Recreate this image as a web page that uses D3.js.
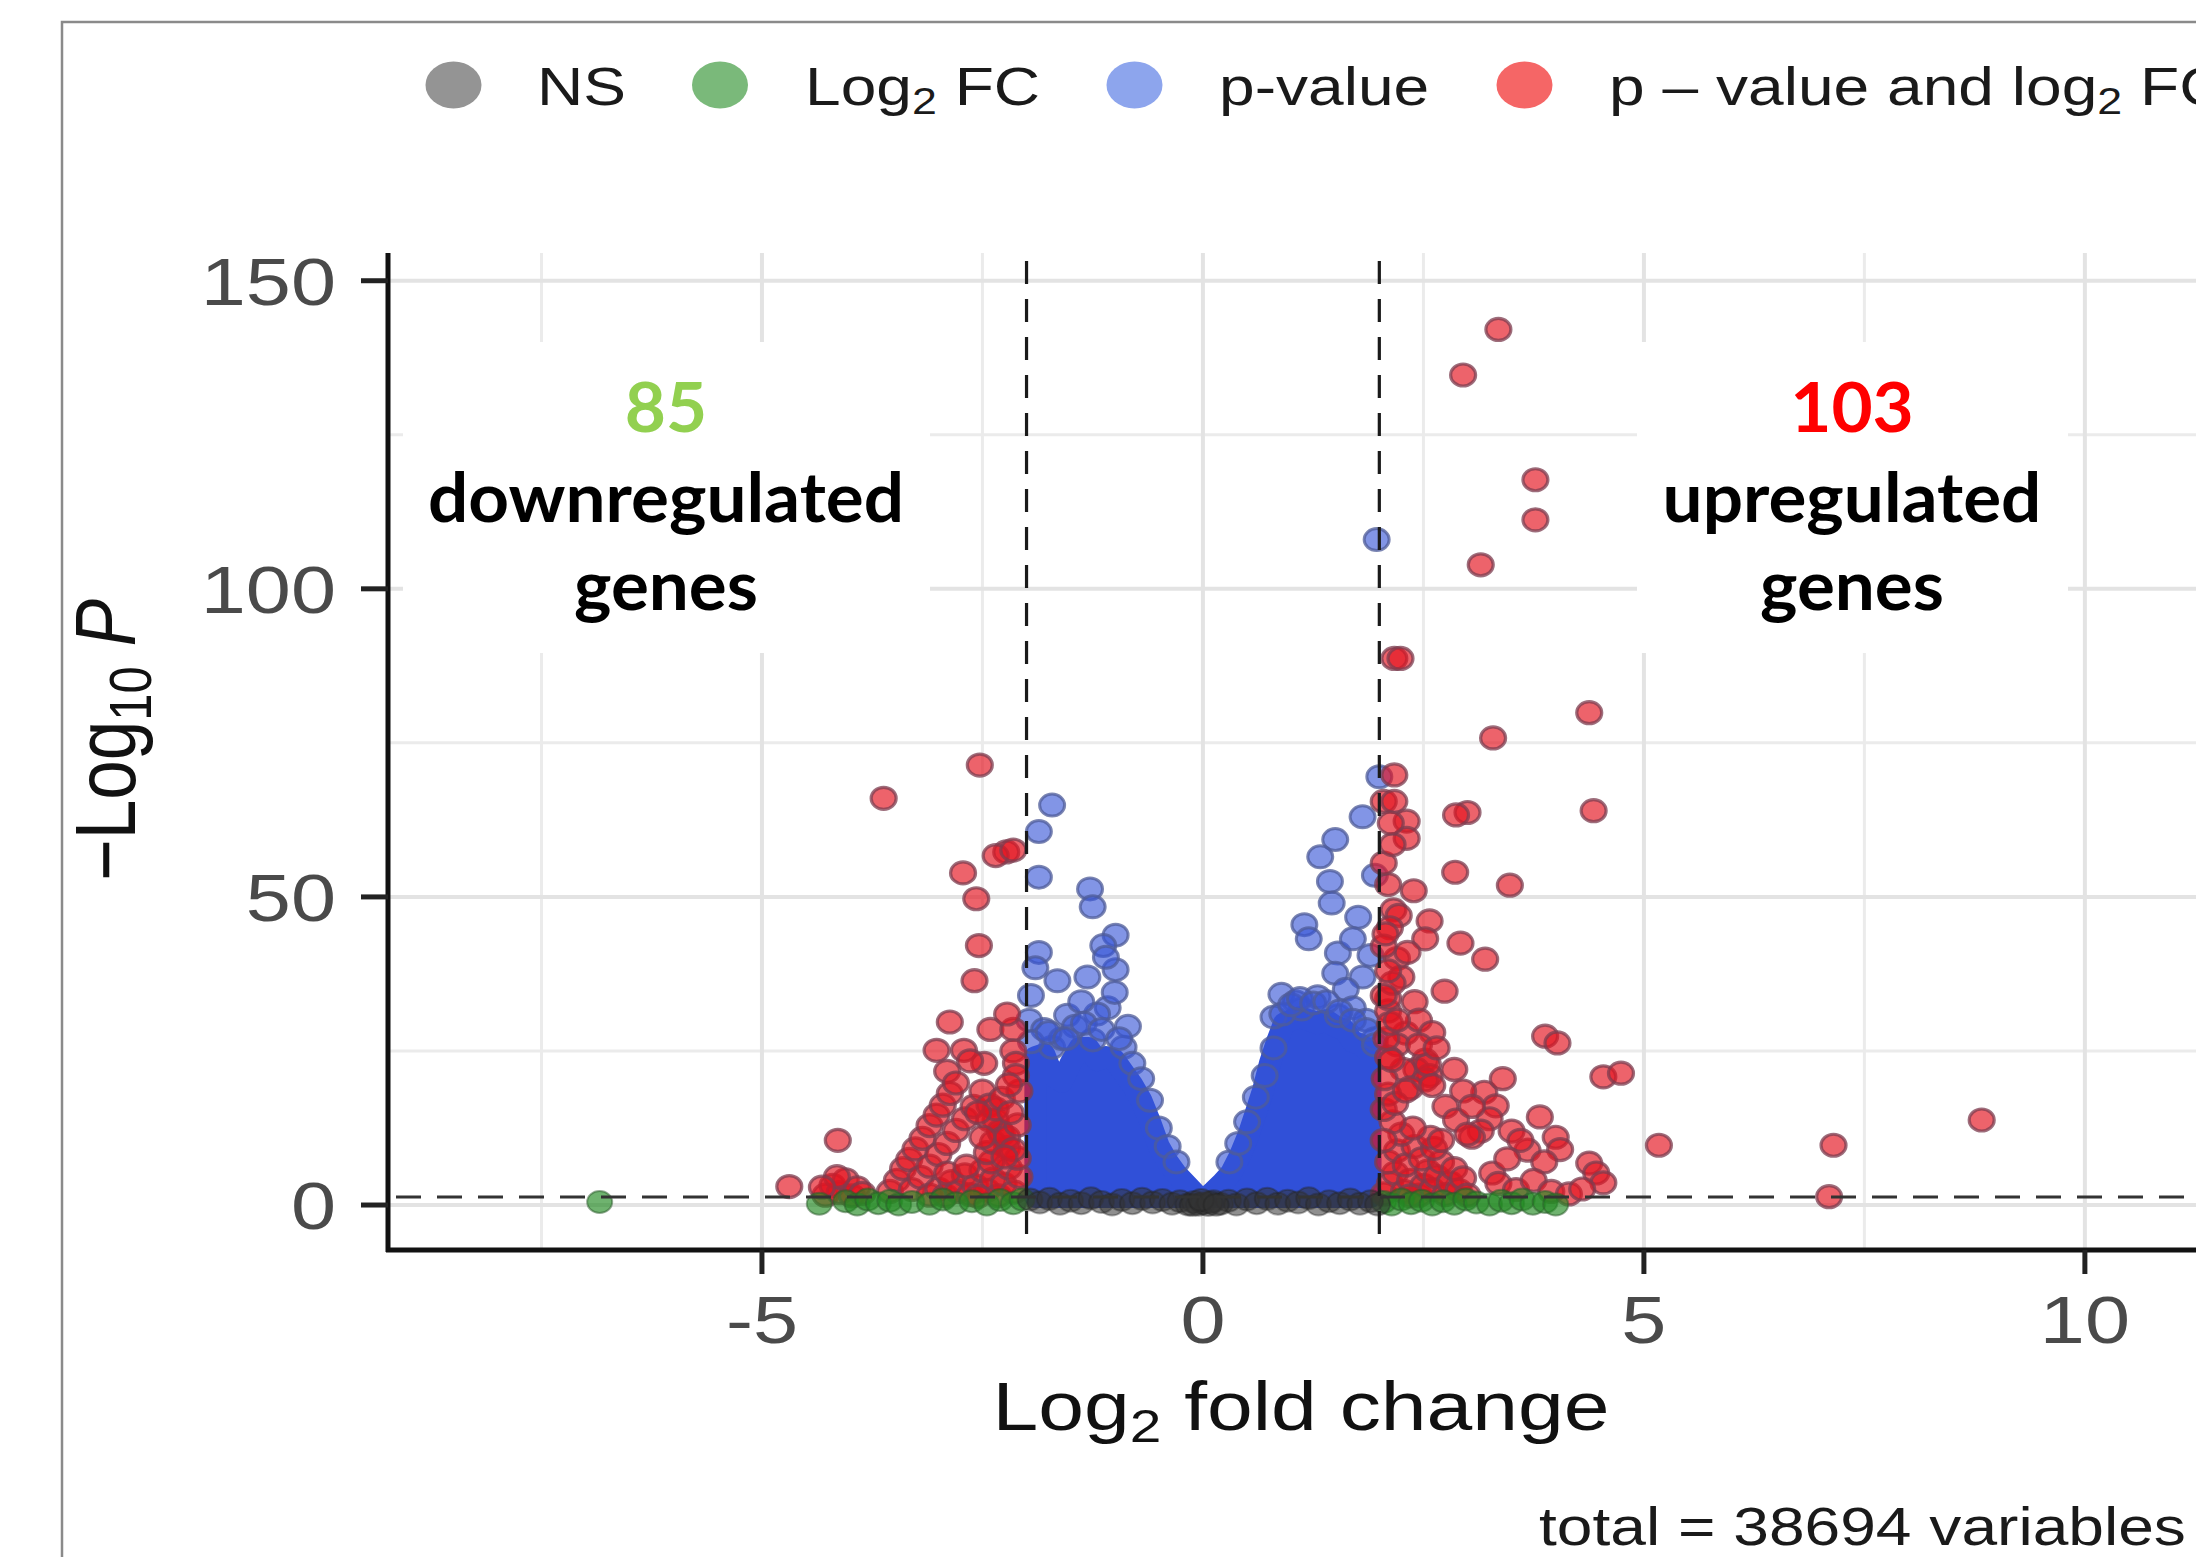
<!DOCTYPE html>
<html><head><meta charset="utf-8">
<script src="https://cdn.jsdelivr.net/npm/d3@7"></script>
<style>body{margin:0;background:#fff;overflow:hidden}</style>
</head><body>
<svg id="chart" width="2196" height="1557"></svg>
<script>
// ---------------- DATA ----------------
const xTicks = [-5, 0, 5, 10];
const xTickLabels = ["-5", "0", "5", "10"];
const yTicks = [0, 50, 100, 150];
const yTickLabels = ["0", "50", "100", "150"];
const xMinorTicks = [-7.5, -2.5, 2.5, 7.5];
const yMinorTicks = [25, 75, 125];
const fcCutoffs = [-2, 2];
const pCutoff = 1.3;
const legendKeys = ["NS", "Log2 FC", "p-value", "p - value and log2 FC"];
const downCount = 85, upCount = 103;
const totalVariables = 38694;

// significant by p-value and log2FC (red)
const redPoints = [
  // left, sparse
  [-2.53,71.4],[-3.62,66.0],[-2.23,57.3],[-2.35,56.7],[-2.15,57.6],[-2.72,53.9],[-2.57,49.7],
  [-2.54,42.1],[-2.59,36.4],[-2.87,29.7],[-2.41,28.5],[-2.15,28.5],[-3.02,25.1],[-2.71,25.1],
  [-2.9,21.7],[-2.15,25.0],[-2.12,23.0],[-2.48,23.0],[-2.22,31.0],
  // left ramps
  [-3.55,2.2],[-3.47,4.0],[-3.40,5.9],[-3.33,7.4],[-3.26,9.1],[-3.18,10.8],[-3.10,12.9],[-3.02,14.6],
  [-2.95,16.2],[-2.87,18.1],[-2.80,19.8],[-2.64,23.4],
  [-3.3,2.5],[-3.2,4.5],[-3.1,6.3],[-3.0,8.2],[-2.9,10.0],[-2.8,12.1],[-2.7,14.0],[-2.6,16.0],
  [-2.5,18.5],[-2.42,16.2],[-2.35,13.8],[-2.28,11.5],[-2.22,9.3],
  [-4.14,10.5],[-4.69,3.0],
  // left dense clusters
  [-4.28,1.6],[-4.2,3.2],[-4.12,2.0],[-4.05,4.1],[-3.98,1.5],[-3.92,2.8],[-4.15,4.6],[-4.32,2.9],[-3.86,1.9],
  [-3.1,1.6],[-3.0,2.6],[-2.92,1.5],[-2.85,3.8],[-2.78,2.2],[-2.7,4.9],[-2.64,1.7],[-2.58,3.1],[-2.5,5.6],
  [-2.45,2.4],[-2.38,4.2],[-2.32,1.5],[-2.26,3.4],[-2.2,6.0],[-2.14,2.1],[-2.08,4.6],[-2.55,1.4],[-2.9,5.2],
  [-2.68,6.3],[-2.4,7.0],[-2.1,7.6],
  [-2.45,8.5],[-2.38,10.2],[-2.3,12.0],[-2.42,13.8],[-2.35,15.6],[-2.28,17.3],[-2.22,11.0],[-2.15,9.0],
  [-2.1,13.0],[-2.18,15.0],[-2.25,7.8],[-2.5,11.0],[-2.55,15.0],[-2.08,18.5],[-2.12,21.0],[-2.2,19.5],
  // right, sparse
  [3.35,142.1],[2.95,134.7],[3.77,117.7],[3.77,111.2],[3.15,103.9],[2.17,88.7],[2.24,88.7],[4.38,79.9],
  [3.29,75.8],[4.43,64.0],[3.0,63.7],[2.87,63.3],[2.86,54.0],[2.17,69.8],[2.05,65.5],[2.17,65.5],
  [2.31,62.3],[2.31,59.5],[2.39,51.0],[2.16,47.9],[2.22,47.0],[2.57,46.1],[2.52,43.2],[2.92,42.5],
  [3.2,39.9],[2.2,40.0],[2.32,41.0],[3.48,51.9],[2.74,34.7],[2.1,31.5],[2.1,33.5],[2.3,27.9],
  [2.52,23.5],[2.42,22.0],[2.57,21.0],[3.88,27.4],[4.02,26.3],[4.54,20.8],[4.74,21.4],[3.19,18.3],
  [3.32,16.1],[3.25,14.0],[3.15,12.0],[3.05,11.0],[3.82,14.3],[4.0,11.0],[4.05,9.0],[4.38,6.8],
  [4.46,5.2],[4.54,3.6],[3.68,8.9],[3.87,7.0],[3.28,5.2],[5.17,9.7],[7.15,9.7],[7.1,1.35],[8.83,13.8],
  [2.27,22.0],[2.52,20.3],[2.12,45.0],[2.25,37.0],[2.15,36.0],[2.4,33.0],[2.45,30.0],[2.2,26.0],
  [2.6,28.0],[2.35,19.0],[2.1,24.0],[2.05,42.0],[2.1,52.0],[2.05,55.5],[2.15,58.5],[2.13,62.0],
  [2.55,22.8],[2.6,19.4],[2.75,16.0],[2.87,13.8],[3.0,11.5],[2.45,26.0],[2.65,25.5],[2.85,22.0],
  [2.95,18.5],[3.05,16.0],[3.4,20.5],[3.5,12.0],[3.6,10.5],[3.45,7.5],[3.35,3.5],[3.55,2.5],
  [3.75,4.0],[3.95,2.2],[4.15,1.8],[4.3,2.6],
  // right dense clusters
  [2.05,1.8],[2.12,3.5],[2.18,5.2],[2.1,7.0],[2.2,8.8],[2.28,2.2],[2.35,4.0],[2.3,6.5],[2.4,9.5],
  [2.45,1.6],[2.5,3.2],[2.55,5.5],[2.48,7.5],[2.6,2.5],[2.65,4.6],[2.7,7.0],[2.62,9.2],[2.75,1.7],
  [2.8,3.6],[2.85,5.9],[2.9,2.4],[2.95,4.4],[2.58,11.0],[2.25,11.5],[2.38,12.5],[2.15,13.5],
  [2.05,10.5],[2.7,10.5],[3.0,1.6],[2.35,1.5],
  [2.05,15.5],[2.1,18.0],[2.06,20.5],[2.14,23.5],[2.08,27.0],[2.12,29.5],[2.05,34.0],[2.1,38.0],
  [2.07,44.0],[2.2,30.0],[2.18,16.5],[2.3,18.5]
];

// significant by p-value only (blue), scattered above the dense mass
const bluePoints = [
  [-1.71,64.9],[-1.86,60.6],[-1.86,53.2],[-1.28,51.3],[-1.25,48.4],[-0.99,43.8],[-1.13,42.1],
  [-1.86,41.0],[-1.9,38.5],[-1.65,36.4],[-1.31,37.0],[-0.99,38.2],[-1.54,30.8],[-1.08,32.0],
  [-1.25,26.8],[-1.71,25.6],[-0.9,25.6],[-1.95,34.0],[-1.97,30.0],[-1.8,28.5],[-1.45,29.0],
  [-1.2,31.0],[-1.0,34.5],[-0.85,29.0],[-1.1,40.2],[-1.38,33.0],[-1.6,27.0],
  [-1.95,26.5],[-1.75,28.0],[-1.55,27.0],[-1.35,29.5],[-1.15,28.5],[-0.95,27.0],[-0.8,23.0],
  [-0.7,20.5],[-0.6,17.0],[-0.5,12.5],[-0.4,9.5],[-0.3,7.0],
  [1.97,108.0],[2.0,69.5],[1.81,63.0],[1.5,59.3],[1.33,56.5],[1.44,52.5],[1.46,49.0],[1.76,46.7],
  [1.15,45.5],[1.2,43.2],[1.95,53.5],[1.53,40.9],[1.7,43.2],[1.5,37.6],[0.89,34.2],[1.12,31.8],
  [1.53,30.7],[1.81,37.0],[1.9,40.5],[1.62,35.0],[1.3,33.8],[1.05,33.0],[1.7,32.0],[1.85,30.0],
  [1.95,27.0],[0.8,30.5],
  [0.3,7.0],[0.4,10.0],[0.5,13.5],[0.6,17.5],[0.7,21.0],[0.8,25.5],[0.9,31.0],[1.0,32.5],
  [1.1,33.5],[1.25,32.8],[1.4,33.0],[1.55,31.5],[1.7,30.0],[1.85,28.5],[1.95,26.0]
];

// upper envelope (point centres) of the dense blue mass
const blueMassLeft = [
  [-1.9,1.3],[-1.9,24],[-1.8,24.5],[-1.7,21],[-1.6,20],[-1.5,23],[-1.4,25.5],[-1.3,25.5],
  [-1.2,23.5],[-1.1,24],[-1.0,23.5],[-0.9,21.5],[-0.8,19.5],[-0.7,17],[-0.6,13.5],[-0.5,9.5],
  [-0.4,7],[-0.3,5],[-0.2,3.5],[-0.1,2],[-0.05,1.3]
];
const blueMassRight = [
  [0.05,1.3],[0.12,2.2],[0.22,3.6],[0.32,5.2],[0.42,8],[0.52,11.5],[0.6,15],[0.68,18.5],
  [0.76,23],[0.84,26.5],[0.92,29.5],[1.0,30],[1.1,30.5],[1.2,30],[1.3,29.5],[1.4,30],
  [1.5,29],[1.6,28.5],[1.7,26.5],[1.8,26],[1.9,24.5],[1.9,1.3]
];

// log2FC only (green)
const greenPoints = [
  [-6.84,0.5],[-4.35,0.2],[-4.05,0.6],[-3.92,0.1],[-3.8,0.9],[-3.68,0.3],[-3.55,0.7],[-3.45,0.1],
  [-3.3,0.5],[-3.1,0.2],[-2.95,0.9],[-2.8,0.3],[-2.62,0.6],[-2.45,0.1],[-2.3,0.8],[-2.15,0.3],
  [-2.05,0.9],[2.05,0.5],[2.14,0.1],[2.25,0.9],[2.36,0.3],[2.48,0.7],[2.6,0.1],[2.72,0.6],
  [2.85,0.2],[2.98,0.9],[3.1,0.4],[3.25,0.1],[3.38,0.7],[3.5,0.3],[3.62,0.9],[3.74,0.2],
  [3.88,0.5],[4.0,0.1]
];

// not significant (grey)
const nsPoints = [
  [-1.96,0.9],[-1.85,0.4],[-1.74,1.0],[-1.62,0.2],[-1.5,0.7],[-1.38,0.3],[-1.27,1.1],[-1.15,0.5],
  [-1.03,0.1],[-0.92,0.8],[-0.8,0.3],[-0.69,1.0],[-0.57,0.4],[-0.46,0.8],[-0.35,0.2],[-0.26,0.6],
  [-0.17,0.1],[-0.1,0.5],[-0.05,0.05],[0.0,0.3],[0.06,0.0],[0.12,0.6],[0.2,0.2],[0.29,0.7],
  [0.38,0.1],[0.5,0.9],[0.61,0.3],[0.73,1.0],[0.85,0.2],[0.96,0.7],[1.08,0.4],[1.2,1.1],
  [1.31,0.1],[1.43,0.6],[1.55,0.3],[1.67,0.9],[1.78,0.2],[1.9,0.6],[1.98,0.1],
  [-0.12,0.0],[0.08,0.4],[-0.02,0.8],[0.15,0.05]
];

// ---------------- LAYOUT / STYLE ----------------
const W = 2196, H = 1557;
const panel = {left: 388, right: 2226, top: 253, bottom: 1250};
const SX = 1.21; // horizontal text stretch seen in the reference
const sansFont = "'Liberation Sans', Arial, Helvetica, sans-serif";
const colors = {ns: "#4d4d4d", fc: "#228b22", p: "#4169e1", both: "#ee0000"};

const svg = d3.select("#chart");
svg.append("rect").attr("width", W).attr("height", H).attr("fill", "#fff");

const x = d3.scaleLinear().domain([-9.24, 11.6]).range([panel.left, panel.right]);
const y = d3.scaleLinear().domain([-7.3, 154.5]).range([panel.bottom, panel.top]);

// outer frame
svg.append("path").attr("d", `M62,${H} L62,22 L${W},22`)
  .attr("fill", "none").attr("stroke", "#8a8a8a").attr("stroke-width", 2.5);

// grid
const grid = svg.append("g");
grid.selectAll(".vmin").data(xMinorTicks).join("line")
  .attr("x1", d => x(d)).attr("x2", d => x(d)).attr("y1", panel.top).attr("y2", panel.bottom)
  .attr("stroke", "#ebebeb").attr("stroke-width", 3);
grid.selectAll(".hmin").data(yMinorTicks).join("line")
  .attr("y1", d => y(d)).attr("y2", d => y(d)).attr("x1", panel.left).attr("x2", panel.right)
  .attr("stroke", "#ebebeb").attr("stroke-width", 3);
grid.selectAll(".vmaj").data(xTicks).join("line")
  .attr("x1", d => x(d)).attr("x2", d => x(d)).attr("y1", panel.top).attr("y2", panel.bottom)
  .attr("stroke", "#e3e3e3").attr("stroke-width", 4);
grid.selectAll(".hmaj").data(yTicks).join("line")
  .attr("y1", d => y(d)).attr("y2", d => y(d)).attr("x1", panel.left).attr("x2", panel.right)
  .attr("stroke", "#e3e3e3").attr("stroke-width", 4);

// white boxes behind the annotations
const boxes = [{x0: 403, x1: 930}, {x0: 1637, x1: 2068}];
svg.selectAll(".box").data(boxes).join("rect")
  .attr("x", d => d.x0).attr("y", 342).attr("width", d => d.x1 - d.x0).attr("height", 311)
  .attr("fill", "#fff");

// dense blue mass
const massLine = d3.line().x(d => x(d[0])).y(d => y(d[1]));
svg.selectAll(".mass").data([blueMassLeft, blueMassRight]).join("path")
  .attr("d", d => massLine(d) + "Z")
  .attr("fill", "#3050d8").attr("stroke", "#3050d8").attr("stroke-width", 22)
  .attr("stroke-linejoin", "round");

function drawPoints(data, fill, fo, stroke, so, sw) {
  svg.append("g").selectAll("ellipse").data(data).join("ellipse")
    .attr("cx", d => x(d[0])).attr("cy", d => y(d[1])).attr("rx", 12.5).attr("ry", 11)
    .attr("fill", fill).attr("fill-opacity", fo)
    .attr("stroke", stroke).attr("stroke-opacity", so).attr("stroke-width", sw);
}
drawPoints(bluePoints, "#3554d6", 0.62, "#4f5c98", 0.75, 3);
drawPoints(redPoints, "#e3121f", 0.66, "#7c3e50", 0.75, 3.2);
drawPoints(greenPoints, colors.fc, 0.65, "#2c5a2c", 0.5, 2);
drawPoints(nsPoints, "#333333", 0.55, "#222", 0.35, 2);

// cutoff lines
svg.selectAll(".vcut").data(fcCutoffs).join("line")
  .attr("x1", d => x(d)).attr("x2", d => x(d)).attr("y1", panel.top + 8).attr("y2", panel.bottom)
  .attr("stroke", "#1a1a1a").attr("stroke-width", 3.2).attr("stroke-dasharray", "23,15");
svg.append("line").attr("x1", panel.left + 8).attr("x2", panel.right)
  .attr("y1", y(pCutoff)).attr("y2", y(pCutoff))
  .attr("stroke", "#333").attr("stroke-width", 3.2).attr("stroke-dasharray", "25,16");

// axes
svg.append("line").attr("x1", panel.left).attr("x2", panel.left).attr("y1", panel.top).attr("y2", panel.bottom + 2)
  .attr("stroke", "#111").attr("stroke-width", 5);
svg.append("line").attr("x1", panel.left - 2).attr("x2", panel.right).attr("y1", panel.bottom).attr("y2", panel.bottom)
  .attr("stroke", "#111").attr("stroke-width", 5);
svg.selectAll(".yt").data(yTicks).join("line")
  .attr("x1", panel.left - 27).attr("x2", panel.left).attr("y1", d => y(d)).attr("y2", d => y(d))
  .attr("stroke", "#222").attr("stroke-width", 5);
svg.selectAll(".xt").data(xTicks).join("line")
  .attr("y1", panel.bottom).attr("y2", panel.bottom + 24).attr("x1", d => x(d)).attr("x2", d => x(d))
  .attr("stroke", "#222").attr("stroke-width", 5);

function sText(px, py, size, anchor, fill) {
  return svg.append("text")
    .attr("transform", `translate(${px},${py}) scale(${SX},1)`)
    .attr("font-family", sansFont).attr("font-size", size)
    .attr("text-anchor", anchor).attr("fill", fill);
}
yTicks.forEach((v, i) => sText(336, y(v) + 24, 67, "end", "#4a4a4a").text(yTickLabels[i]));
xTicks.forEach((v, i) => sText(x(v), 1343, 67, "middle", "#4a4a4a").text(xTickLabels[i]));

// axis titles
const xt = sText(1301, 1430, 68, "middle", "#111");
xt.append("tspan").text("Log");
xt.append("tspan").attr("font-size", 47).attr("dy", 12).text("2");
xt.append("tspan").attr("dy", -12).text(" fold change");

const yt = svg.append("text")
  .attr("transform", `translate(135,740) scale(${SX},1) rotate(-90)`)
  .attr("font-family", sansFont).attr("font-size", 71).attr("text-anchor", "middle").attr("fill", "#111");
yt.append("tspan").text("\u2212Log");
yt.append("tspan").attr("font-size", 49).attr("dy", 13).text("10");
yt.append("tspan").attr("dy", -13).text(" ");
yt.append("tspan").attr("font-style", "italic").text("P");

// legend (the last label runs past the right edge, as in the reference)
const legendX = [453.5, 720, 1134.5, 1524.5];
const legendTextX = [537, 805, 1219, 1609];
const legendColors = [colors.ns, colors.fc, colors.p, colors.both];
legendKeys.forEach((k, i) => {
  svg.append("ellipse").attr("cx", legendX[i]).attr("cy", 85).attr("rx", 28).attr("ry", 23.5)
    .attr("fill", legendColors[i]).attr("fill-opacity", 0.6);
  const t = sText(legendTextX[i], 105, 53, "start", "#1a1a1a");
  if (k === "Log2 FC") {
    t.append("tspan").text("Log");
    t.append("tspan").attr("font-size", 37).attr("dy", 9).text("2");
    t.append("tspan").attr("dy", -9).text(" FC");
  } else if (k === "p - value and log2 FC") {
    t.append("tspan").text("p \u2013 value and log");
    t.append("tspan").attr("font-size", 37).attr("dy", 9).text("2");
    t.append("tspan").attr("dy", -9).text(" FC");
  } else {
    t.text(k);
  }
});

// caption
sText(1539, 1545, 53, "start", "#1a1a1a").text(`total = ${totalVariables} variables`);

// annotations
const annFont = "Lato, 'Open Sans', sans-serif";
const ann = [
  {cx: 666, lines: [{t: String(downCount), c: "#92d050"}, {t: "downregulated", c: "#000"}, {t: "genes", c: "#000"}]},
  {cx: 1852, lines: [{t: String(upCount), c: "#ff0000"}, {t: "upregulated", c: "#000"}, {t: "genes", c: "#000"}]}
];
const baselines = [432, 522, 610];
const probe = svg.append("text").attr("font-family", annFont).attr("font-weight", 700)
  .attr("font-size", 68).text("downregulated");
const fit = 476 / probe.node().getBBox().width;
probe.remove();
ann.forEach(a => a.lines.forEach((l, i) => {
  svg.append("text")
    .attr("transform", `translate(${a.cx},${baselines[i]}) scale(${fit},1)`)
    .attr("font-family", annFont).attr("font-weight", 700).attr("font-size", 68)
    .attr("text-anchor", "middle").attr("fill", l.c).text(l.t);
}));
</script>
</body></html>
